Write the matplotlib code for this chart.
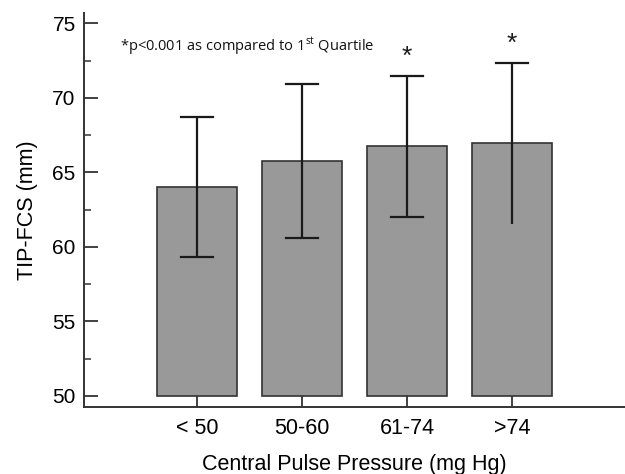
import matplotlib.pyplot as plt
import numpy as np
from matplotlib.ticker import MultipleLocator

plt.rcParams['font.family'] = ['Liberation Sans', 'DejaVu Sans']

groups = ["< 50", "50-60", "61-74", ">74"]
means = [64.05, 65.8, 66.78, 67.0]
err_hi = [68.72, 70.96, 71.47, 72.36]
err_lo = [59.3, 60.6, 62.0, 61.57]
lower_cap = [True, True, True, False]
signif = [False, False, True, True]

base = 50
pos = np.arange(1, len(groups) + 1)

fig = plt.figure(figsize=(6.25, 4.74), dpi=100)
ax = fig.add_axes([0.1344, 0.1414, 0.8656, 0.8312])

ax.bar(pos, np.array(means) - base, bottom=base, width=0.77,
       color='#999999', edgecolor='#333333', linewidth=1.2, zorder=2)

lo = np.array(means) - np.array(err_lo)
hi = np.array(err_hi) - np.array(means)
ax.errorbar(pos, means, yerr=[lo, hi], fmt='none', ecolor='#1a1a1a',
            elinewidth=1.6, capsize=0, zorder=3)
# caps drawn by hand, the last bar has no lower cap
cw = 0.15
for p, h, l, c in zip(pos, err_hi, err_lo, lower_cap):
    ax.plot([p - cw, p + cw], [h, h], color='#1a1a1a', lw=1.6, zorder=3)
    if c:
        ax.plot([p - cw, p + cw], [l, l], color='#1a1a1a', lw=1.6, zorder=3)

for p, h, s in zip(pos, err_hi, signif):
    if s:
        ax.text(p, h + 0.45, "*", ha='center', va='bottom', fontsize=19,
                color='#1a1a1a')

ax.text(0.267, 73.41, "*p<0.001 as compared to 1$^{\\mathregular{st}}$ Quartile",
        fontsize=10.5, family=['Open Sans', 'DejaVu Sans'], va='center',
        color='#111111')

ax.set_xlim(-0.076, 5.076)
ax.set_ylim(49.26, 75.7)
ax.set_xticks(pos)
ax.set_xticklabels(groups)
ax.yaxis.set_major_locator(MultipleLocator(5))
ax.yaxis.set_minor_locator(MultipleLocator(2.5))

for s in ['top', 'right']:
    ax.spines[s].set_visible(False)
for s in ['left', 'bottom']:
    ax.spines[s].set_color('#333333')
    ax.spines[s].set_linewidth(1.4)

ax.tick_params(axis='both', which='major', direction='in', length=10,
               width=1.3, color='#333333', labelsize=15, pad=6)
ax.tick_params(axis='y', which='minor', direction='in', length=5,
               width=1.1, color='#333333')
ax.tick_params(axis='x', labelsize=15.5, pad=8)

ax.set_xlabel("Central Pulse Pressure (mg Hg)", fontsize=15.5, labelpad=11)
ax.set_ylabel("TIP-FCS (mm)", fontsize=15.5, labelpad=10)

fig.savefig("out.png", dpi=100)
